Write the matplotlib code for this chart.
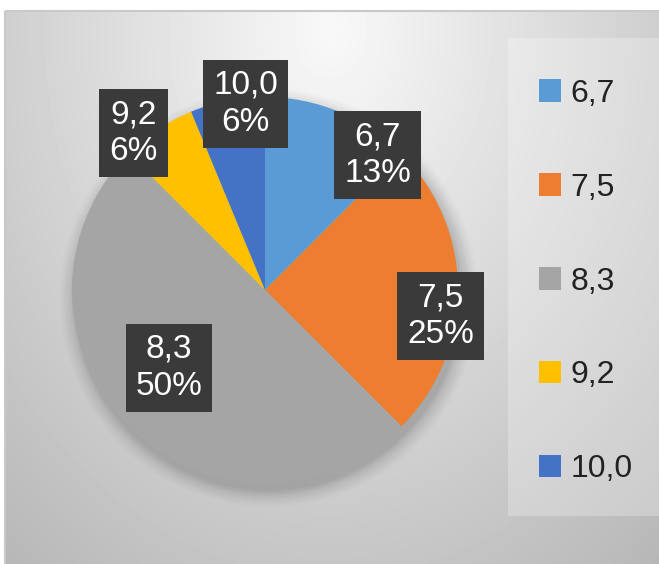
import numpy as np
import matplotlib
matplotlib.use("Agg")
import matplotlib.pyplot as plt
from matplotlib.patches import Rectangle, Circle

plt.rcParams['font.family'] = ['Liberation Sans', 'DejaVu Sans']

# data
categories = ['6,7', '7,5', '8,3', '9,2', '10,0']
counts = [2, 4, 8, 1, 1]
percents = ['13%', '25%', '50%', '6%', '6%']
colors = ['#5B9BD5', '#ED7D31', '#A5A5A5', '#FFC000', '#4472C4']

# label anchors (angle in degrees, radius as fraction of pie radius)
label_pos = [(50, 0.91), (-8.5, 0.92), (219, 0.64), (130, 1.06), (96, 0.97)]

W, H = 659, 564
fig = plt.figure(figsize=(W / 100, H / 100), dpi=100)
fig.patch.set_facecolor('white')

# background panel with soft gradient
bg = fig.add_axes([0, 0, 1, 1])
bg.set_xlim(0, W)
bg.set_ylim(H, 0)
bg.axis('off')
yy, xx = np.mgrid[0:H, 0:W]
d = np.sqrt(((xx - 330) / 420.0) ** 2 + ((yy - 30) / 560.0) ** 2)
grad = np.clip(0.975 - 0.21 * d, 0, 1)
grad[:11, :] = 1.0
grad[:, :5] = 1.0
bg.imshow(grad, cmap='gray', vmin=0, vmax=1, extent=(0, W, H, 0), zorder=0)
bg.add_patch(Rectangle((5, 11), W, H, fill=False, ec='#c9c9c9', lw=1.5, zorder=1))

# legend panel
bg.add_patch(Rectangle((508, 38), W - 508, 478, fc='white', alpha=0.25, ec='none', zorder=1))

# pie
ax = fig.add_axes([72 / W, (H - 290 - 193) / H, 386 / W, 386 / H])
ax.axis('off')
ax.patch.set_alpha(0)

# soft shadow
for i, a in enumerate(np.linspace(0.04, 0.01, 8)):
    ax.add_patch(Circle((0.02, -0.04), 1.0 + i * 0.012, fc='black', alpha=a,
                        ec='none', zorder=0, clip_on=False))

wedges, _ = ax.pie(counts, colors=colors, startangle=90, counterclock=False,
                   radius=1.0, wedgeprops=dict(linewidth=0), frame=False)
for w in wedges:
    w.set_zorder(1)
ax.set_xlim(-1, 1)
ax.set_ylim(-1, 1)

for cat, pct, (ang, r) in zip(categories, percents, label_pos):
    x = r * np.cos(np.radians(ang))
    y = r * np.sin(np.radians(ang))
    ax.text(x, y, f'{cat}\n{pct}', ha='center', va='center', color='white',
            fontsize=24, linespacing=1.25, zorder=5,
            bbox=dict(boxstyle='square,pad=0.3', fc='#3a3a3a', ec='none'))

# legend
leg = fig.legend(handles=wedges, labels=categories, loc='upper left',
                 bbox_to_anchor=(510 / W, 1 - 50 / H), frameon=False,
                 fontsize=23, handlelength=0.7, handleheight=0.7,
                 handletextpad=0.3, labelspacing=2.0, labelcolor='#222222')

fig.savefig('out.png', dpi=100)
